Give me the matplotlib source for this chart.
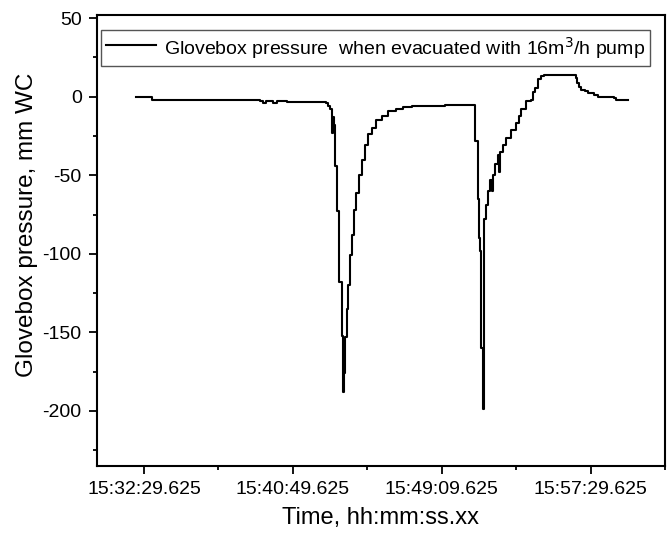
import matplotlib
matplotlib.use("Agg")
import matplotlib.pyplot as plt
from matplotlib.ticker import MultipleLocator, FuncFormatter
import numpy as np

plt.rcParams['font.family'] = ['Liberation Sans', 'DejaVu Sans']
plt.rcParams['axes.unicode_minus'] = False

# time: seconds after 15:00:00, pressure in mm WC (logger steps)
T0 = 15 * 3600
t_sec = [1924, 1978, 2338, 2349, 2360, 2382, 2395, 2429,
         2561, 2566, 2574, 2580, 2583, 2588, 2591, 2598, 2606, 2614, 2618,
         2623, 2626, 2630, 2636, 2642, 2649, 2656, 2663, 2672, 2682, 2692,
         2702, 2716, 2730, 2750, 2770, 2795, 2820, 2850, 2962,
         3063, 3073, 3075, 3078, 3081, 3088, 3092, 3100, 3106, 3112, 3118,
         3121, 3130, 3140, 3143, 3146, 3154, 3164, 3181, 3198, 3208, 3215,
         3232, 3248, 3256, 3262, 3272, 3282, 3292, 3400, 3405, 3412, 3418,
         3430, 3442, 3460, 3474, 3528, 3535, 3575]
pressure = [0, -2, -2.5, -4, -2.5, -4, -3, -3.2,
            -4, -6, -8, -23, -13, -18, -44, -73, -118, -152, -188,
            -176, -153, -135, -120, -101, -88, -72, -61, -50, -40, -31,
            -24, -20, -15, -12, -9, -7.7, -6.4, -5.8, -5.0,
            -28, -65, -90, -98, -160, -199, -78, -69, -60, -53, -60,
            -50, -43, -37, -48, -35, -31, -26, -21, -17, -12, -8,
            -2.6, -1.9, 3, 5.8, 11, 13, 14, 12, 9, 6.5, 4.5,
            3.5, 2.6, 1, 0, -0.6, -1.8, -1.8]

x_first_tick = 15 * 3600 + 32 * 60 + 29.625
x_step = 500

def fmt_time(v, pos):
    h = int(v // 3600)
    m = int((v % 3600) // 60)
    s = v - h * 3600 - m * 60
    return f"{h:02d}:{m:02d}:{s:06.3f}"

fig = plt.figure(figsize=(6.7, 5.44), dpi=100)
ax = fig.add_axes([0.1448, 0.1434, 0.8477, 0.829])

t = np.array(t_sec) + T0
ax.plot(t, pressure, color='black', lw=1.5, drawstyle='steps-post',
        label='Glovebox pressure  when evacuated with 16m$^3$/h pump')

ax.set_xlim(x_first_tick - 0.316 * x_step, x_first_tick + 3.5 * x_step)
ax.set_ylim(-235, 52)

ax.xaxis.set_major_locator(MultipleLocator(x_step, offset=x_first_tick % x_step))
ax.xaxis.set_minor_locator(MultipleLocator(x_step / 2, offset=x_first_tick % (x_step / 2)))
ax.xaxis.set_major_formatter(FuncFormatter(fmt_time))
ax.yaxis.set_major_locator(MultipleLocator(50))
ax.yaxis.set_minor_locator(MultipleLocator(25))

ax.tick_params(which='major', direction='out', length=6, width=1.3, labelsize=14, pad=5)
ax.tick_params(which='minor', direction='out', length=3, width=1.3)
for sp in ax.spines.values():
    sp.set_linewidth(1.5)

ax.set_xlabel('Time, hh:mm:ss.xx', fontsize=17, labelpad=6)
ax.set_ylabel('Glovebox pressure, mm WC', fontsize=17.5)
ax.yaxis.set_label_coords(-0.104, 0.534)

leg = ax.legend(loc='upper left', bbox_to_anchor=(4 / 568, 1 - 15 / 451),
                fontsize=14, handlelength=2.6, handletextpad=0.4,
                handleheight=1.5, fancybox=False, framealpha=1,
                edgecolor='#555555', borderaxespad=0, borderpad=0.25)
leg.get_frame().set_linewidth(1.0)

fig.savefig('out.png', dpi=100)
